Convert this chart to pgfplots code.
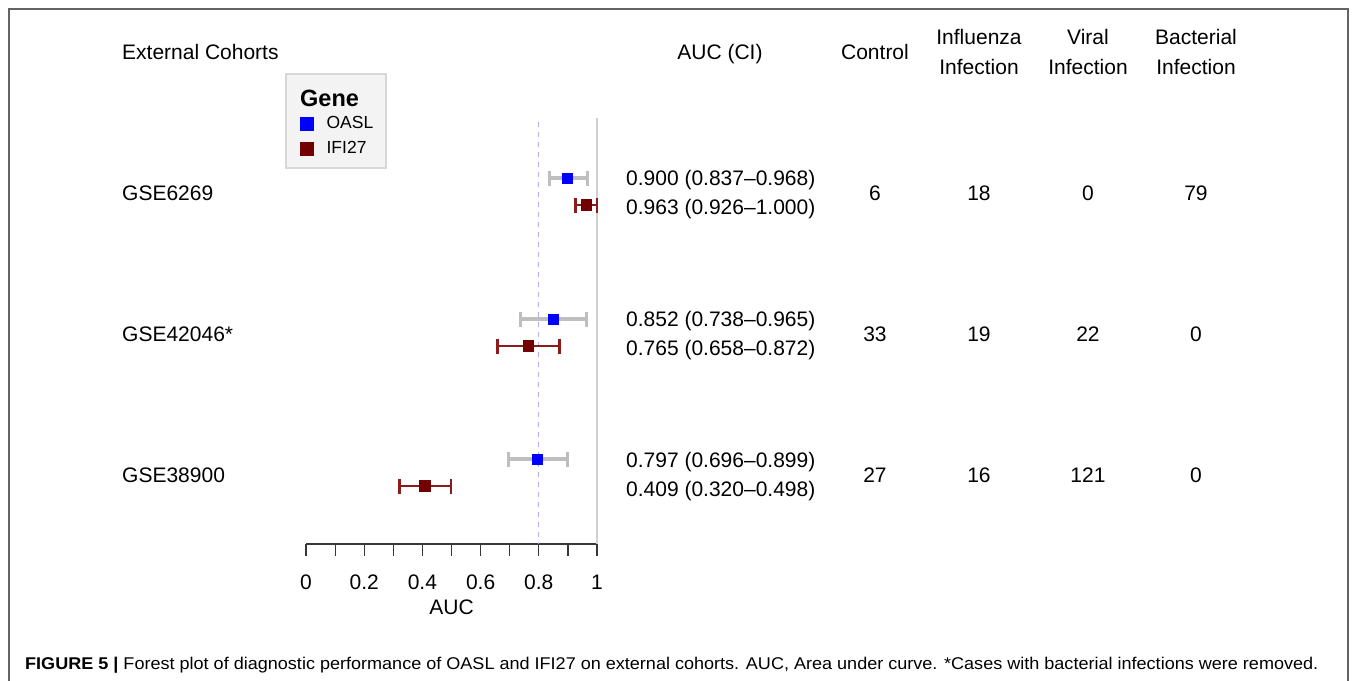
\documentclass[border=0pt]{standalone}
\usepackage{pgfplots}
\pgfplotsset{compat=1.18}
\usepackage{fontspec}
\setmainfont{Liberation Sans}
\usepackage{graphicx}
\definecolor{oasl}{RGB}{0,0,255}
\definecolor{oaslbar}{RGB}{190,190,190}
\definecolor{ifi}{RGB}{115,0,0}
\definecolor{ifibar}{RGB}{140,28,28}
\definecolor{refline}{RGB}{208,208,208}
\definecolor{dashline}{RGB}{175,175,245}
\definecolor{axisgray}{RGB}{55,55,55}
\definecolor{framegray}{RGB}{100,100,100}
\definecolor{legfill}{RGB}{243,243,243}
\definecolor{legdraw}{RGB}{215,215,215}
\newcommand{\txt}{\fontsize{21bp}{25bp}\selectfont}
\begin{document}
\begin{tikzpicture}
\path[use as bounding box] (0,0) rectangle (1357bp,-681bp);
\draw[framegray, line width=1.5bp] (9bp,-681bp) -- (9bp,-9bp) -- (1348bp,-9bp) -- (1348bp,-681bp);
\begin{scope}[x=1bp,y=-1bp]
\draw[fill=legfill, draw=legdraw, line width=1.5bp] (286,74) rectangle (386,168);
\node[anchor=base west, inner sep=0, font=\bfseries\fontsize{23.5bp}{28bp}\selectfont] at (300,106) {Gene};
\end{scope}
\begin{axis}[
  at={(306bp,-544bp)}, anchor=south west,
  scale only axis, width=291bp, height=426bp,
  xmin=0, xmax=1, ymin=118, ymax=544, y dir=reverse,
  axis y line=none, axis x line=bottom,
  x axis line style={-, axisgray, line width=1.2bp},
  xtick={0,0.2,0.4,0.6,0.8,1}, minor xtick={0.1,0.3,0.5,0.7,0.9},
  xtick align=outside, major tick length=12bp, minor tick length=12bp,
  every tick/.style={axisgray, line width=1.2bp},
  every minor tick/.style={axisgray, line width=1.2bp},
  /pgf/number format/assume math mode=true,
  xticklabel style={font=\txt, anchor=base, yshift=-33bp},
  xlabel={AUC},
  xlabel style={at={(axis description cs:0.5,0)}, anchor=base, yshift=-70bp, font=\txt},
  clip=false,
  legend style={at={(axis description cs:-0.0206,1.0035)}, anchor=north west,
    draw=none, fill=none, inner sep=0pt, font=\fontsize{17.5bp}{21bp}\selectfont,
    row sep=11bp, nodes={inner sep=0pt},
    /tikz/every odd column/.append style={column sep=13bp}},
  legend cell align=left,
]
\addplot[refline, line width=1.5bp, forget plot] coordinates {(1,118) (1,544)};
\addplot[dashline, line width=1.3bp, dash pattern=on 5bp off 5bp, forget plot] coordinates {(0.8,122) (0.8,544)};
\addplot[only marks, mark=square*, mark size=5bp, mark options={draw=oasl, fill=oasl, line width=0pt}, forget plot,
  error bars/.cd, x dir=both, x explicit, error mark=|,
  error bar style={oaslbar, line width=3.2bp},
  error mark options={oaslbar, line width=3.2bp, mark size=7.5bp}]
coordinates {
(0.900,178) += (0.068,0) -= (0.063,0)
(0.852,319) += (0.113,0) -= (0.114,0)
(0.797,459) += (0.102,0) -= (0.101,0)
};
\addplot[only marks, mark=square*, mark size=5.2bp, mark options={draw=ifi, fill=ifi, line width=0pt}, forget plot,
  error bars/.cd, x dir=both, x explicit, error mark=|,
  error bar style={ifibar, line width=2.8bp},
  error mark options={ifibar, line width=2.8bp, mark size=7.5bp}]
coordinates {
(0.963,205) += (0.037,0) -= (0.037,0)
(0.765,346) += (0.107,0) -= (0.107,0)
(0.409,486) += (0.089,0) -= (0.089,0)
};
\addlegendimage{legend image code/.code={\fill[oasl] (-6.5bp,-6.5bp) rectangle (6.5bp,6.5bp);}}
\addlegendentry{OASL}
\addlegendimage{legend image code/.code={\fill[ifi] (-6.5bp,-6.5bp) rectangle (6.5bp,6.5bp);}}
\addlegendentry{IFI27}
\end{axis}
\begin{scope}[x=1bp,y=-1bp, every node/.style={inner sep=0pt, font=\txt}]
\node[anchor=base west] at (122,59) {External Cohorts};
\node[anchor=base] at (720,59) {AUC (CI)};
\node[anchor=base] at (875,59) {Control};
\node[anchor=base] at (979,44) {Influenza};
\node[anchor=base] at (979,74.5) {Infection};
\node[anchor=base] at (1088,44) {Viral};
\node[anchor=base] at (1088,74.5) {Infection};
\node[anchor=base] at (1196,44) {Bacterial};
\node[anchor=base] at (1196,74.5) {Infection};
% row 1
\node[anchor=base west] at (122,200) {GSE6269};
\node[anchor=base west] at (626,185.5) {0.900 (0.837–0.968)};
\node[anchor=base west] at (626,214.5) {0.963 (0.926–1.000)};
\node[anchor=base] at (875,200) {6};
\node[anchor=base] at (979,200) {18};
\node[anchor=base] at (1088,200) {0};
\node[anchor=base] at (1196,200) {79};
% row 2
\node[anchor=base west] at (122,341) {GSE42046*};
\node[anchor=base west] at (626,326.5) {0.852 (0.738–0.965)};
\node[anchor=base west] at (626,355.5) {0.765 (0.658–0.872)};
\node[anchor=base] at (875,341) {33};
\node[anchor=base] at (979,341) {19};
\node[anchor=base] at (1088,341) {22};
\node[anchor=base] at (1196,341) {0};
% row 3
\node[anchor=base west] at (122,482) {GSE38900};
\node[anchor=base west] at (626,467.5) {0.797 (0.696–0.899)};
\node[anchor=base west] at (626,496.5) {0.409 (0.320–0.498)};
\node[anchor=base] at (875,482) {27};
\node[anchor=base] at (979,482) {16};
\node[anchor=base] at (1088,482) {121};
\node[anchor=base] at (1196,482) {0};
% caption
\node[anchor=base west] at (25,669) {\resizebox{1293bp}{\height}{\fontsize{17bp}{20bp}\selectfont\textbf{FIGURE 5 |} Forest plot of diagnostic performance of OASL and IFI27 on external cohorts. AUC, Area under curve. *Cases with bacterial infections were removed.}};
\end{scope}
\end{tikzpicture}
\end{document}
